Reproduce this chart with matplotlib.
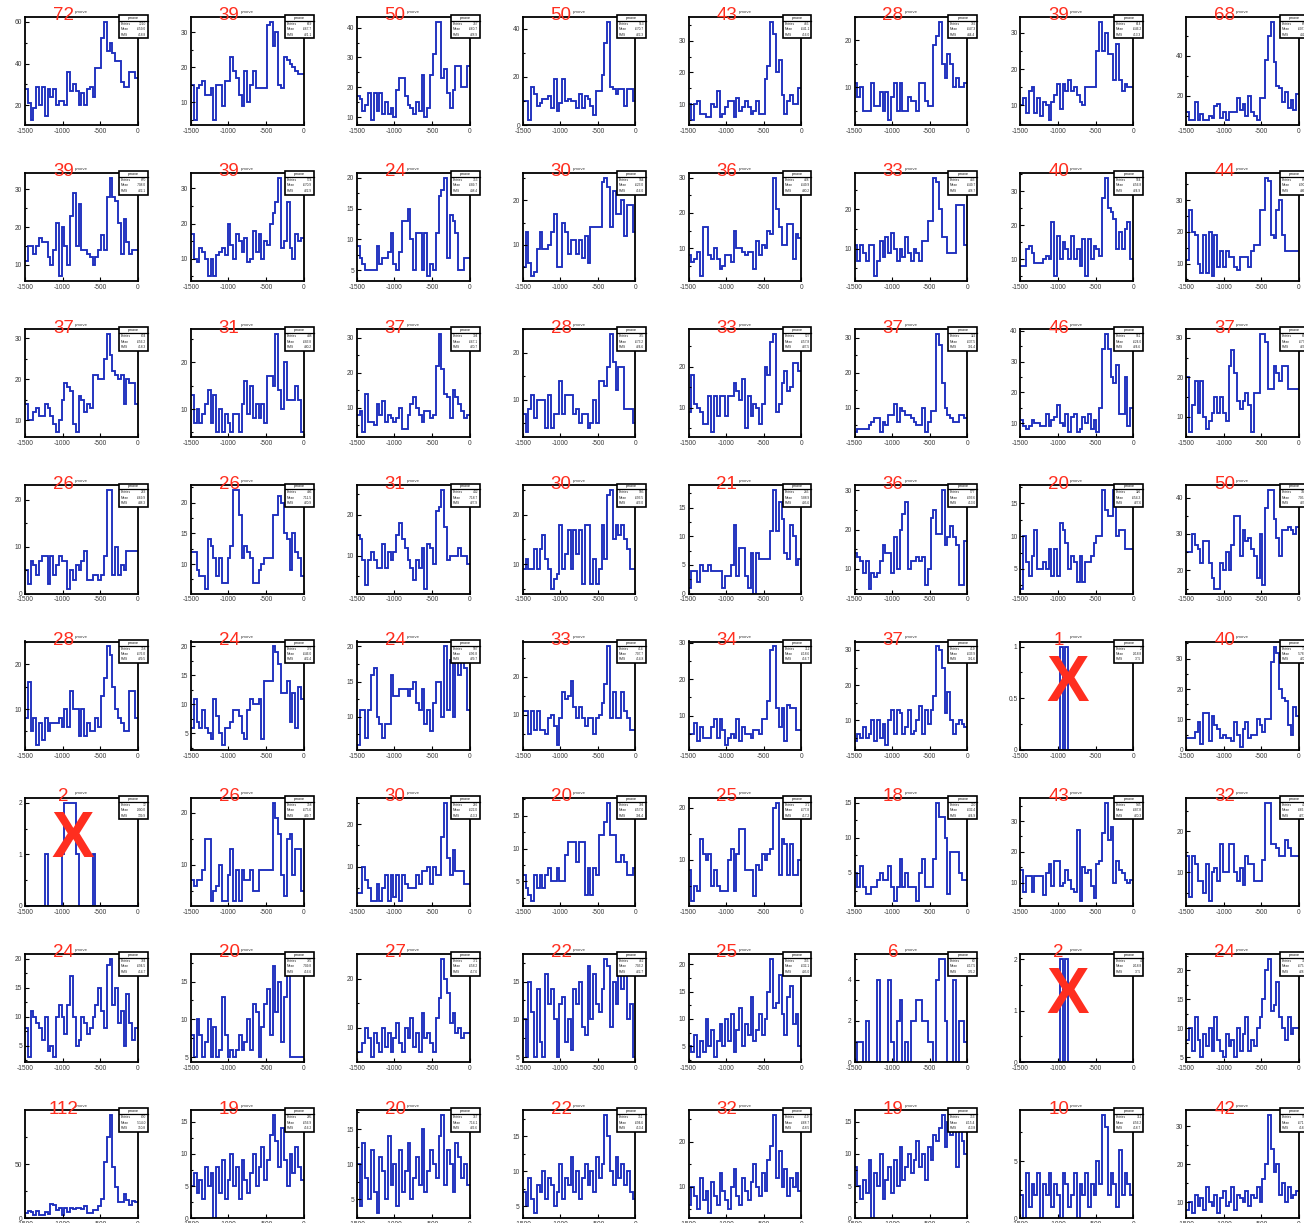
import numpy as np
import matplotlib
matplotlib.use('Agg')
import matplotlib.pyplot as plt
from matplotlib.patches import Rectangle
from matplotlib.ticker import MultipleLocator, AutoMinorLocator, FormatStrFormatter

W, H = 1304, 1223
x_lo, x_hi = -1500, 0
n_bins = 40
edges = np.linspace(x_lo, x_hi, n_bins + 1)

# red number shown above every pad
tags = [
    [72, 39, 50, 50, 43, 28, 39, 68],
    [39, 39, 24, 30, 36, 33, 40, 44],
    [37, 31, 37, 28, 33, 37, 46, 37],
    [26, 26, 31, 30, 21, 36, 20, 50],
    [28, 24, 24, 33, 34, 37, 1, 40],
    [2, 26, 30, 20, 25, 18, 43, 32],
    [24, 20, 27, 22, 25, 6, 2, 24],
    [112, 19, 20, 22, 32, 19, 10, 42],
]

# pads that got a red cross
crossed = [(4, 6), (5, 0), (6, 6)]

# bin contents, one list of 8 histograms per row of pads
row0 = [
    [28,21,13,19,29,20,29,15,28,24,28,20,22,22,20,36,27,30,27,20,26,20,28,29,24,38,38,52,60,46,50,45,41,41,31,29,29,36,36,33],
    [15,5,14,15,16,12,12,14,5,15,15,9,16,16,23,19,17,12,9,19,10,15,19,14,14,14,14,32,33,26,30,15,14,23,22,21,20,19,18,18],
    [17,16,12,14,18,9,18,12,18,11,15,11,13,10,19,23,23,17,14,13,11,15,12,24,10,13,24,31,42,42,23,26,18,13,19,27,27,20,20,27],
    [10,10,2,16,13,8,9,11,11,12,7,19,6,9,19,10,11,10,10,7,13,7,12,11,8,4,14,14,21,34,43,16,15,13,15,15,8,15,15,10],
    [10,5,10,11,7,7,6,6,10,9,14,6,7,9,11,11,6,12,8,9,11,9,7,8,11,7,7,18,22,36,32,20,24,13,7,11,13,10,10,15],
    [11,8,10,5,5,5,11,6,6,9,5,9,3,8,11,5,11,5,5,8,7,7,5,11,11,7,6,6,19,21,24,15,12,17,15,10,12,10,10,11],
    [10,12,8,14,15,8,12,7,11,10,6,11,13,16,9,16,14,17,14,15,13,11,10,15,15,15,15,25,33,25,30,24,24,17,27,17,14,16,15,15],
    [12,8,8,17,8,11,8,8,10,9,15,16,9,12,8,12,12,12,19,13,16,10,20,12,10,8,19,19,38,50,57,37,25,24,17,22,14,18,13,21],
]
row1 = [
    [11,15,15,13,15,17,16,16,12,10,14,21,7,20,15,10,23,29,15,26,14,14,13,12,10,12,14,18,14,28,33,28,27,21,13,22,16,13,14,14],
    [17,10,9,13,12,10,5,10,5,11,12,13,11,20,14,10,17,15,12,16,9,10,18,12,17,10,15,14,20,23,26,33,13,15,26,13,10,17,15,16],
    [9,7,6,5,5,5,5,9,6,7,7,8,11,6,5,8,13,13,15,10,5,11,11,5,11,4,6,5,11,17,18,20,7,14,13,11,5,5,7,7],
    [5,13,6,3,4,9,13,9,9,10,13,17,5,5,15,13,8,11,11,8,11,7,12,6,14,14,14,14,24,25,23,14,22,17,17,20,12,19,19,13],
    [8,6,7,9,2,16,16,8,7,10,7,4,5,8,8,6,15,10,10,9,8,9,9,4,12,8,11,10,15,14,30,21,16,11,11,17,17,7,14,13],
    [11,7,11,9,7,11,11,3,7,12,8,13,9,14,10,7,10,8,13,9,7,10,9,7,12,12,17,17,28,27,20,13,13,9,9,9,21,21,21,11],
    [8,8,13,14,12,9,9,9,10,11,10,21,5,17,10,15,13,10,17,10,13,8,16,5,16,10,14,13,11,28,34,25,24,22,13,18,13,19,21,10],
    [11,27,20,19,10,7,19,7,20,6,19,9,14,9,14,12,12,9,8,12,12,12,9,14,16,16,27,27,37,36,19,18,27,30,19,14,14,14,14,14],
]
row2 = [
    [14,10,10,12,13,11,11,14,13,11,9,7,10,15,19,18,17,9,7,16,15,12,14,13,21,21,20,20,25,31,26,22,21,20,21,14,20,19,19,14],
    [13,7,10,7,9,11,14,7,13,5,10,5,9,7,5,9,9,5,11,16,9,15,8,11,8,11,7,17,17,15,26,14,10,20,12,12,12,15,12,5],
    [8,9,3,14,6,6,5,11,8,12,6,8,7,6,7,10,4,4,8,11,13,10,8,6,9,9,7,8,22,31,21,14,13,7,15,13,11,9,7,8],
    [7,3,8,11,6,10,10,10,4,11,4,7,7,14,7,11,11,11,7,8,5,7,7,4,5,10,5,14,14,13,17,24,18,12,17,17,8,8,8,5],
    [9,18,11,10,9,6,6,13,4,13,8,13,13,8,13,13,16,14,12,17,5,13,8,11,10,6,11,20,18,26,28,9,11,16,19,14,15,21,21,19],
    [3,4,4,4,4,5,6,7,7,3,6,5,8,8,11,6,10,9,8,8,7,6,5,5,10,3,6,9,9,31,28,17,10,8,7,6,6,8,8,7],
    [11,9,8,9,11,10,10,9,9,13,9,11,12,16,10,9,13,7,12,13,7,8,12,10,13,8,11,7,15,34,39,34,25,23,29,13,13,25,9,15],
    [20,6,13,19,11,19,10,7,9,11,15,11,15,11,9,23,27,21,14,12,14,16,13,6,16,16,31,31,29,17,17,23,21,19,23,23,17,17,17,17],
]
row3 = [
    [5,2,7,6,4,7,8,8,2,8,4,6,8,7,7,1,5,3,6,5,7,9,3,3,4,4,3,4,8,22,22,4,10,4,6,5,9,9,9,9],
    [12,12,9,8,8,6,14,13,11,8,11,7,7,11,13,22,22,18,11,13,12,11,7,7,9,10,11,11,11,18,18,21,20,15,14,9,15,12,11,8],
    [15,14,9,3,9,11,9,7,7,13,7,11,9,11,15,18,14,12,9,7,4,9,7,12,2,13,12,8,21,22,26,17,9,10,10,10,12,10,10,8],
    [9,11,9,9,13,9,13,16,11,9,5,7,8,18,9,12,17,9,17,12,17,6,18,18,6,11,6,9,18,11,24,25,15,18,16,18,15,13,9,9],
    [1,4,4,2,5,4,4,5,4,4,4,4,1,3,3,5,12,3,8,8,3,1,7,0,7,6,6,6,6,11,18,11,16,13,7,6,12,10,5,6],
    [14,13,12,9,12,5,9,8,9,12,16,14,14,9,18,10,20,24,27,10,12,12,13,12,13,6,10,23,25,19,19,30,16,18,21,18,16,6,6,17],
    [2,10,6,4,7,11,5,5,6,5,8,4,8,4,12,11,9,5,7,6,3,7,3,6,6,7,9,10,10,17,14,13,13,17,10,11,11,8,8,8],
    [25,25,30,27,26,22,28,28,22,18,15,15,22,20,25,20,27,35,35,24,31,28,29,26,24,18,30,16,37,42,42,34,29,24,31,31,32,31,30,32],
]
row4 = [
    [8,16,5,8,2,7,3,8,5,7,7,7,8,6,10,6,14,10,10,4,10,4,7,5,5,8,6,13,17,24,22,15,10,8,7,5,5,14,14,8],
    [6,11,7,6,9,6,5,4,11,8,5,3,6,6,7,9,9,8,5,4,9,11,10,10,11,4,14,14,14,20,19,17,12,12,14,7,12,6,13,11],
    [6,11,11,7,11,16,17,10,9,7,9,9,16,13,13,14,14,14,13,14,15,12,11,14,9,11,8,12,15,15,10,20,11,18,10,20,16,18,17,11],
    [11,11,5,11,6,11,6,6,5,9,10,7,2,9,16,14,15,19,12,9,12,9,7,9,9,5,9,10,13,18,28,9,16,9,9,16,11,9,6,6],
    [5,5,8,3,7,4,4,4,7,9,4,9,6,2,4,5,4,9,3,7,5,5,4,6,6,5,9,9,14,28,29,12,7,12,3,13,12,12,6,6],
    [4,6,5,8,5,6,10,4,10,5,9,3,10,13,6,13,12,6,8,13,6,7,10,14,6,13,9,13,17,31,30,25,12,18,10,6,9,10,9,8],
    [0,0,0,0,0,0,0,0,0,0,0,0,0,0,1,0,1,0,0,0,0,0,0,0,0,0,0,0,0,0,0,0,0,0,0,0,0,0,0,0],
    [4,4,4,6,9,2,12,12,3,11,8,7,4,5,4,4,3,9,5,1,7,9,4,5,5,10,8,6,10,10,29,34,32,20,17,16,8,5,14,11],
]
row5 = [
    [0,0,0,0,0,0,0,1,0,0,0,0,0,1,2,2,2,2,1,0,0,0,0,0,1,0,0,0,0,0,0,0,0,0,0,0,0,0,0,0],
    [7,6,7,7,9,15,15,3,5,6,10,3,3,8,13,3,9,3,9,7,7,9,5,5,9,9,9,9,9,22,19,16,8,4,15,16,8,13,13,5],
    [4,4,10,7,5,2,2,6,2,5,8,2,8,3,8,2,8,6,5,5,5,8,6,9,9,10,6,10,8,8,17,25,12,8,14,9,9,9,6,6],
    [6,4,3,2,6,4,6,4,6,7,5,5,7,5,5,9,11,11,11,8,11,11,3,7,3,7,6,12,12,14,17,12,12,8,8,9,8,6,6,7],
    [8,2,5,4,14,11,10,11,5,8,5,4,4,4,10,12,4,11,16,16,8,8,8,3,9,8,11,10,11,12,20,21,7,14,13,7,13,7,7,10],
    [5,3,6,3,2,2,3,3,4,5,4,4,6,3,1,3,7,3,5,3,3,3,1,5,7,3,3,3,7,15,13,13,10,2,8,8,8,5,4,4],
    [14,7,12,12,7,12,12,12,6,13,16,9,17,17,9,10,14,11,8,7,27,4,15,13,14,9,5,16,17,26,36,24,28,10,17,14,13,11,10,11],
    [14,4,14,12,8,8,5,12,3,10,11,8,17,10,10,17,17,10,8,11,7,14,12,12,8,8,8,13,27,27,17,17,16,14,14,18,16,14,14,14],
]
row6 = [
    [8,3,11,10,9,8,6,10,4,5,3,10,12,10,7,12,17,10,5,6,10,9,7,8,10,12,15,11,8,19,20,12,15,9,11,5,14,9,6,8],
    [8,5,10,8,5,7,10,5,9,5,6,13,8,5,6,5,6,8,6,7,10,6,12,11,5,9,12,14,8,17,11,15,7,13,18,5,5,5,5,5],
    [5,5,7,10,8,4,9,7,5,10,6,9,5,8,11,7,5,10,8,12,6,9,5,13,8,9,7,5,12,16,24,20,17,11,13,9,10,8,9,9],
    [10,5,15,11,5,14,7,5,16,12,14,10,5,12,13,7,10,6,14,12,15,9,8,17,10,16,12,11,14,18,17,9,15,12,18,14,17,10,12,5],
    [5,4,7,3,6,4,10,5,8,3,6,9,5,10,6,11,4,8,12,5,9,7,14,6,8,11,7,10,15,21,12,13,18,11,7,14,16,9,11,5],
    [0,1,1,0,2,0,0,0,4,0,0,0,4,1,0,2,3,0,1,0,2,2,3,3,2,2,1,1,0,4,5,5,2,0,0,4,0,2,2,1],
    [0,0,0,0,0,0,0,0,0,0,0,0,0,0,2,0,2,0,0,0,0,0,0,0,0,0,0,0,0,0,0,0,0,0,0,0,0,0,0,0],
    [8,10,6,12,8,5,9,7,10,6,12,8,6,5,9,7,8,5,10,6,9,12,6,8,7,10,12,15,20,22,13,14,18,12,10,8,12,9,10,10],
]
row7 = [
    [5,7,6,3,7,3,3,6,4,13,12,8,10,3,10,6,10,9,10,10,9,11,5,5,8,8,11,18,52,75,95,47,29,15,15,22,17,12,16,15],
    [5,7,4,6,3,8,5,7,0,8,4,9,3,6,10,5,8,3,9,6,4,7,10,5,8,11,6,9,13,16,12,8,14,9,5,10,7,11,8,6],
    [10,4,13,8,5,12,6,3,11,9,5,14,7,10,4,12,6,9,13,5,8,11,7,15,6,9,12,10,8,14,17,7,12,10,6,13,11,8,10,7],
    [7,5,9,6,4,8,7,10,6,9,8,5,7,11,6,9,8,12,7,10,6,9,11,8,10,7,12,9,11,18,15,10,8,12,9,11,8,10,7,6],
    [6,10,8,5,12,7,9,4,11,8,6,13,9,7,5,10,14,8,6,12,9,7,11,15,10,8,13,9,16,19,26,12,18,10,14,8,12,10,13,9],
    [8,5,3,6,4,9,0,7,5,10,3,6,8,4,9,5,11,6,8,10,7,9,12,8,10,6,11,9,13,12,14,16,11,15,13,16,8,14,12,10],
    [2,0,4,1,3,2,4,0,3,2,4,1,3,2,0,4,3,1,2,4,0,3,2,4,1,3,2,5,3,9,8,2,4,3,1,6,2,4,3,2],
    [8,10,7,12,9,11,8,14,10,9,12,7,11,13,9,10,14,8,12,11,10,13,9,12,11,14,10,16,20,33,24,18,20,12,15,10,14,11,12,13],
]
rows = [row0, row1, row2, row3, row4, row5, row6, row7]

FONT = 'Liberation Sans'
LINE = '#1c2dbd'
RED = '#ff2e1f'


def nice_step(span):
    # pick 1/2/5 step so that there are at most 4 labelled divisions
    for k in range(-3, 5):
        for m in (1, 2, 5):
            s = m * 10.0 ** k
            if span / s <= 4:
                return s
    return span


fig = plt.figure(figsize=(W / 100, H / 100), dpi=100)

ax_w, ax_h = 112.7, 108.3
for r in range(8):
    for c in range(8):
        vals = np.array(rows[r][c], dtype=float)
        left = 25 + 165.9 * c
        top = 16.7 + 156.2 * r
        ax = fig.add_axes([left / W, 1 - (top + ax_h) / H, ax_w / W, ax_h / H])

        ax.stairs(vals, edges, baseline=None, color=LINE, lw=1.35)

        mn, mx = vals.min(), vals.max()
        marg = 0.05 * (mx - mn)
        lo = mn - marg
        if lo < 0:
            lo = 0
        hi = mx + marg
        ax.set_xlim(x_lo, x_hi)
        ax.set_ylim(lo, hi)

        step = nice_step(hi - lo)
        ax.yaxis.set_major_locator(MultipleLocator(step))
        ax.yaxis.set_minor_locator(AutoMinorLocator(2))
        ax.yaxis.set_major_formatter(FormatStrFormatter('%g'))
        ax.xaxis.set_major_locator(MultipleLocator(500))
        ax.xaxis.set_major_formatter(FormatStrFormatter('%g'))

        ax.tick_params(which='both', direction='in', top=False, right=False,
                       labelsize=4.8, labelcolor='#3a3a3a', width=0.8)
        ax.tick_params(which='major', length=2.6, pad=2)
        ax.tick_params(which='minor', length=1.4)
        for lab in ax.get_xticklabels() + ax.get_yticklabels():
            lab.set_fontfamily(FONT)
        for sp in ax.spines.values():
            sp.set_linewidth(1.3)

        # title and red number
        ax.text(0.5, 1.04, 'pmove', transform=ax.transAxes, ha='center', va='center',
                fontsize=3.2, color='#444444', family=FONT)
        ax.text(0.34, 1.01, str(tags[r][c]), transform=ax.transAxes, ha='center',
                va='center', fontsize=13.5, color=RED, family=FONT, zorder=6)

        # stats box (the last column runs past the page edge, as in the original)
        bx0, by0, bw, bh = 0.834, 0.80, 0.256, 0.216
        ax.add_patch(Rectangle((bx0, by0), bw, bh, transform=ax.transAxes, clip_on=False,
                               facecolor='white', edgecolor='black', lw=1.2, zorder=5))
        ax.plot([bx0, bx0 + bw], [0.963, 0.963], transform=ax.transAxes, color='black',
                lw=0.9, clip_on=False, zorder=6)
        ax.text(bx0 + bw / 2, 0.99, 'pmove', transform=ax.transAxes, ha='center', va='center',
                fontsize=2.6, color='black', family=FONT, zorder=7)
        centers = 0.5 * (edges[:-1] + edges[1:])
        tot = vals.sum()
        mean = (vals * centers).sum() / tot
        rms = np.sqrt((vals * (centers - mean) ** 2).sum() / tot)
        rows_txt = [('Entries', '%d' % tot), ('Mean', '%.1f' % mean), ('RMS', '%.1f' % rms)]
        for k, (name, v) in enumerate(rows_txt):
            yy = 0.935 - k * 0.05
            ax.text(bx0 + 0.015, yy, name, transform=ax.transAxes, ha='left', va='center',
                    fontsize=2.3, color='#222222', family=FONT, zorder=7)
            ax.text(bx0 + bw - 0.015, yy, v, transform=ax.transAxes, ha='right', va='center',
                    fontsize=2.3, color='#222222', family=FONT, zorder=7)

        if (r, c) in crossed:
            ax.text(0.42, 0.61, 'X', transform=ax.transAxes, ha='center', va='center',
                    fontsize=46, color=RED, family=FONT, weight='bold', zorder=8)

fig.savefig('out.png', dpi=100)
